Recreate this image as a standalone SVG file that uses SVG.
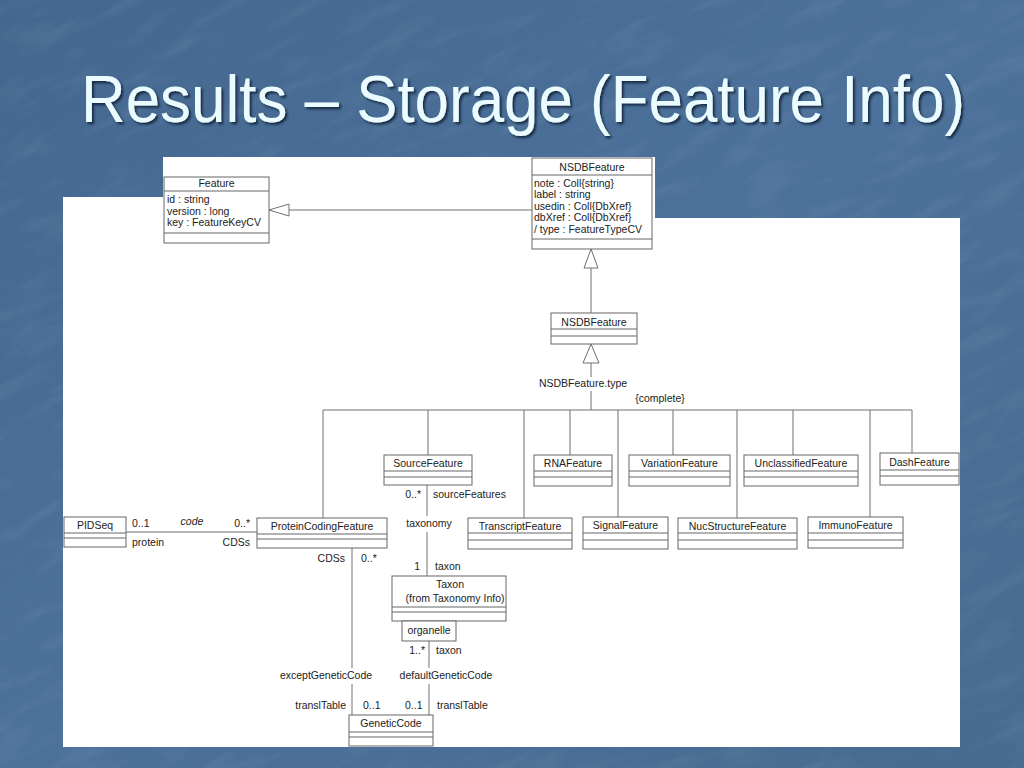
<svg xmlns="http://www.w3.org/2000/svg" width="1024" height="768" viewBox="0 0 1024 768">
<defs>
<style>
.box{fill:#ffffff;stroke:#666666;stroke-width:1}
.div{stroke:#666666;stroke-width:1}
.ln{stroke:#707070;stroke-width:1;fill:none}
.tri{fill:#ffffff;stroke:#707070;stroke-width:1}
.t{font-family:"Liberation Sans",Arial,sans-serif;font-size:10.5px;fill:#222222}
.c{text-anchor:middle}
.e{text-anchor:end}
.title{font-family:"Liberation Sans",Arial,sans-serif;font-size:63px}
</style>
<linearGradient id="bg" x1="0" y1="0" x2="1" y2="1">
<stop offset="0" stop-color="#44678f"/>
<stop offset="0.5" stop-color="#4c719a"/>
<stop offset="1" stop-color="#476a90"/>
</linearGradient>
<filter id="streaks" x="0" y="0" width="100%" height="100%">
<feTurbulence type="fractalNoise" baseFrequency="0.015 0.06" numOctaves="3" seed="7"/>
<feColorMatrix type="matrix" values="0 0 0 0 1  0 0 0 0 1  0 0 0 0 1  0 0 0 0.45 -0.22"/>
</filter>
<filter id="shadow" x="-10%" y="-60%" width="120%" height="220%">
<feDropShadow dx="2" dy="2" stdDeviation="0.8" flood-color="#102036" flood-opacity="0.85"/>
</filter>
</defs>
<rect x="0" y="0" width="1024" height="768" fill="url(#bg)"/>
<g transform="rotate(-25 512 384)">
<rect x="-300" y="-300" width="1624" height="1368" filter="url(#streaks)" opacity="0.35"/>
</g>
<g id="title" transform="translate(81,122) scale(1,1.07)">
<text class="title" x="0" y="0" fill="#eafcff" filter="url(#shadow)" textLength="884" lengthAdjust="spacingAndGlyphs">Results – Storage (Feature Info)</text>
</g>
<polygon id="canvas" points="163,157 655,157 655,218 960,218 960,747 63,747 63,197 163,197" fill="#ffffff"/>
<g id="connectors">
<line class="ln" x1="289" y1="210" x2="532" y2="210"/>
<polygon class="tri" points="269,210 289,204 289,216"/>
<line class="ln" x1="591" y1="268" x2="591" y2="313"/>
<polygon class="tri" points="591,249 584,268 598,268"/>
<line class="ln" x1="591" y1="363" x2="591" y2="377"/>
<line class="ln" x1="591" y1="391" x2="591" y2="410"/>
<polygon class="tri" points="591,344 583,363 599,363"/>
<line class="ln" x1="323" y1="410" x2="912" y2="410"/>
<line class="ln" x1="323" y1="410" x2="323" y2="518"/>
<line class="ln" x1="428" y1="410" x2="428" y2="455"/>
<line class="ln" x1="524" y1="410" x2="524" y2="518"/>
<line class="ln" x1="570" y1="410" x2="570" y2="455"/>
<line class="ln" x1="618" y1="410" x2="618" y2="517"/>
<line class="ln" x1="673" y1="410" x2="673" y2="455"/>
<line class="ln" x1="737" y1="410" x2="737" y2="518"/>
<line class="ln" x1="793" y1="410" x2="793" y2="455"/>
<line class="ln" x1="870" y1="410" x2="870" y2="517"/>
<line class="ln" x1="912" y1="410" x2="912" y2="453"/>
<line class="ln" x1="126" y1="532" x2="257" y2="532"/>
<line class="ln" x1="427" y1="485" x2="427" y2="516"/>
<line class="ln" x1="427" y1="532" x2="427" y2="576"/>
<line class="ln" x1="352" y1="548" x2="352" y2="668"/>
<line class="ln" x1="352" y1="684" x2="352" y2="715"/>
<line class="ln" x1="429" y1="641" x2="429" y2="668"/>
<line class="ln" x1="429" y1="684" x2="429" y2="715"/>
</g>
<g id="labels">
<text class="t c" x="583" y="387">NSDBFeature.type</text>
<text class="t c" x="660" y="402">{complete}</text>
<text class="t" x="132" y="527">0..1</text>
<text class="t c" x="192" y="525" font-style="italic">code</text>
<text class="t e" x="250" y="527">0..*</text>
<text class="t" x="132" y="546">protein</text>
<text class="t e" x="250" y="546">CDSs</text>
<text class="t e" x="421" y="498">0..*</text>
<text class="t" x="433" y="498">sourceFeatures</text>
<text class="t c" x="429" y="527">taxonomy</text>
<text class="t e" x="420" y="570">1</text>
<text class="t" x="435" y="570">taxon</text>
<text class="t e" x="345" y="562">CDSs</text>
<text class="t" x="361" y="562">0..*</text>
<text class="t e" x="425" y="654">1..*</text>
<text class="t" x="436" y="654">taxon</text>
<text class="t c" x="326" y="679">exceptGeneticCode</text>
<text class="t c" x="446" y="679">defaultGeneticCode</text>
<text class="t e" x="346" y="709">translTable</text>
<text class="t" x="363" y="709">0..1</text>
<text class="t" x="405" y="709">0..1</text>
<text class="t" x="437" y="709">translTable</text>
</g>
<g id="node-feature">
<rect class="box" x="164" y="177" width="105" height="66"/>
<line class="div" x1="164" y1="191" x2="269" y2="191"/>
<line class="div" x1="164" y1="233" x2="269" y2="233"/>
<text class="t c" x="216.5" y="187">Feature</text>
<text class="t" x="167" y="203">id : string</text>
<text class="t" x="167" y="214.5">version : long</text>
<text class="t" x="167" y="226">key : FeatureKeyCV</text>
</g>
<g id="node-nsdbfeature-attrs">
<rect class="box" x="532" y="158" width="120" height="91"/>
<line class="div" x1="532" y1="175" x2="652" y2="175"/>
<line class="div" x1="532" y1="239" x2="652" y2="239"/>
<text class="t c" x="592" y="171">NSDBFeature</text>
<text class="t" x="534" y="187">note : Coll{string}</text>
<text class="t" x="534" y="198">label : string</text>
<text class="t" x="534" y="209.5">usedin : Coll{DbXref}</text>
<text class="t" x="534" y="221">dbXref : Coll{DbXref}</text>
<text class="t" x="534" y="232.5">/ type : FeatureTypeCV</text>
</g>
<g id="node-nsdbfeature">
<rect class="box" x="551" y="313" width="86" height="31"/>
<line class="div" x1="551" y1="329" x2="637" y2="329"/>
<line class="div" x1="551" y1="336" x2="637" y2="336"/>
<text class="t c" x="594" y="326">NSDBFeature</text>
</g>
<g id="node-sourcefeature">
<rect class="box" x="384" y="455" width="88" height="30"/>
<line class="div" x1="384" y1="471" x2="472" y2="471"/>
<line class="div" x1="384" y1="477" x2="472" y2="477"/>
<text class="t c" x="428" y="467">SourceFeature</text>
</g>
<g id="node-rnafeature">
<rect class="box" x="534" y="455" width="78" height="31"/>
<line class="div" x1="534" y1="471" x2="612" y2="471"/>
<line class="div" x1="534" y1="477" x2="612" y2="477"/>
<text class="t c" x="573" y="467">RNAFeature</text>
</g>
<g id="node-variationfeature">
<rect class="box" x="629" y="455" width="101" height="31"/>
<line class="div" x1="629" y1="471" x2="730" y2="471"/>
<line class="div" x1="629" y1="477" x2="730" y2="477"/>
<text class="t c" x="679.5" y="467">VariationFeature</text>
</g>
<g id="node-unclassifiedfeature">
<rect class="box" x="744" y="455" width="114" height="31"/>
<line class="div" x1="744" y1="471" x2="858" y2="471"/>
<line class="div" x1="744" y1="477" x2="858" y2="477"/>
<text class="t c" x="801" y="467">UnclassifiedFeature</text>
</g>
<g id="node-dashfeature">
<rect class="box" x="880" y="453" width="79" height="32"/>
<line class="div" x1="880" y1="470" x2="959" y2="470"/>
<line class="div" x1="880" y1="476" x2="959" y2="476"/>
<text class="t c" x="919.5" y="466">DashFeature</text>
</g>
<g id="node-pidseq">
<rect class="box" x="64" y="517" width="62" height="30"/>
<line class="div" x1="64" y1="533" x2="126" y2="533"/>
<line class="div" x1="64" y1="538" x2="126" y2="538"/>
<text class="t c" x="95" y="529">PIDSeq</text>
</g>
<g id="node-proteincodingfeature">
<rect class="box" x="257" y="518" width="130" height="30"/>
<line class="div" x1="257" y1="534" x2="387" y2="534"/>
<line class="div" x1="257" y1="539" x2="387" y2="539"/>
<text class="t c" x="322" y="530">ProteinCodingFeature</text>
</g>
<g id="node-transcriptfeature">
<rect class="box" x="468" y="518" width="104" height="31"/>
<line class="div" x1="468" y1="533" x2="572" y2="533"/>
<line class="div" x1="468" y1="540" x2="572" y2="540"/>
<text class="t c" x="520" y="530">TranscriptFeature</text>
</g>
<g id="node-signalfeature">
<rect class="box" x="583" y="517" width="85" height="32"/>
<line class="div" x1="583" y1="533" x2="668" y2="533"/>
<line class="div" x1="583" y1="540" x2="668" y2="540"/>
<text class="t c" x="625.5" y="529">SignalFeature</text>
</g>
<g id="node-nucstructurefeature">
<rect class="box" x="678" y="518" width="119" height="31"/>
<line class="div" x1="678" y1="533" x2="797" y2="533"/>
<line class="div" x1="678" y1="540" x2="797" y2="540"/>
<text class="t c" x="737.5" y="530">NucStructureFeature</text>
</g>
<g id="node-immunofeature">
<rect class="box" x="808" y="517" width="95" height="31"/>
<line class="div" x1="808" y1="533" x2="903" y2="533"/>
<line class="div" x1="808" y1="540" x2="903" y2="540"/>
<text class="t c" x="855.5" y="529">ImmunoFeature</text>
</g>
<g id="node-taxon">
<rect class="box" x="392" y="576" width="114" height="45"/>
<line class="div" x1="392" y1="607" x2="506" y2="607"/>
<line class="div" x1="392" y1="612" x2="506" y2="612"/>
<text class="t c" x="450" y="588">Taxon</text>
<text class="t c" x="455" y="602">(from Taxonomy Info)</text>
</g>
<g id="node-organelle">
<rect class="box" x="402" y="621" width="54" height="20"/>
<text class="t c" x="429" y="634">organelle</text>
</g>
<g id="node-geneticcode">
<rect class="box" x="349" y="715" width="84" height="31"/>
<line class="div" x1="349" y1="732" x2="433" y2="732"/>
<line class="div" x1="349" y1="737" x2="433" y2="737"/>
<text class="t c" x="391" y="727">GeneticCode</text>
</g>
</svg>
